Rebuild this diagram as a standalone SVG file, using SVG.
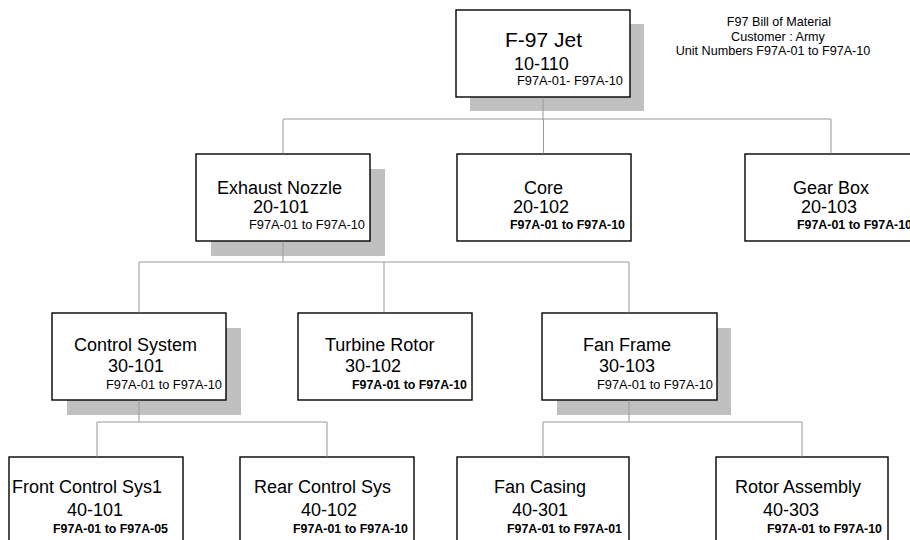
<svg xmlns="http://www.w3.org/2000/svg" width="910" height="540" viewBox="0 0 910 540">
<style>
  .box{fill:#fff;stroke:#000;stroke-width:1.4}
  .sh{fill:#c0c0c0;stroke:none}
  .conn{fill:none;stroke:#999;stroke-width:1}
  text{font-family:"Liberation Sans",Arial,sans-serif;fill:#000}
  .t1{font-size:21px}
  .nm{font-size:18px}
  .sm{font-size:12.8px}
  .bd{font-size:12.4px;font-weight:bold}
  .ti{font-size:12.6px;text-anchor:middle}
</style>
<rect width="910" height="540" fill="#fff"/>
<g id="title">
  <text class="ti" x="779" y="26">F97 Bill of Material</text>
  <text class="ti" x="778" y="41">Customer : Army</text>
  <text class="ti" x="773" y="55">Unit Numbers F97A-01 to F97A-10</text>
</g>
<g id="n-10-110">
  <rect class="sh" x="470" y="24" width="174" height="87"/>
  <rect class="box" x="456" y="10" width="174" height="87"/>
  <text class="t1" x="505" y="47">F-97 Jet</text>
  <text class="nm" x="514" y="70">10-110</text>
  <text class="sm" x="517" y="85">F97A-01- F97A-10</text>
</g>
<g id="n-20-101">
  <rect class="sh" x="211" y="169" width="174" height="87"/>
  <rect class="box" x="196" y="154" width="174" height="87"/>
  <text class="nm" x="217" y="194">Exhaust Nozzle</text>
  <text class="nm" x="253" y="213">20-101</text>
  <text class="sm" x="249" y="229">F97A-01 to F97A-10</text>
</g>
<g id="n-20-102">
  <rect class="box" x="457" y="154" width="174" height="87"/>
  <text class="nm" x="524" y="194">Core</text>
  <text class="nm" x="513" y="213">20-102</text>
  <text class="bd" x="510" y="229">F97A-01 to F97A-10</text>
</g>
<g id="n-20-103">
  <rect class="box" x="745" y="154" width="174" height="87"/>
  <text class="nm" x="793" y="194">Gear Box</text>
  <text class="nm" x="801" y="213">20-103</text>
  <text class="bd" x="797" y="229">F97A-01 to F97A-10</text>
</g>
<g id="n-30-101">
  <rect class="sh" x="67" y="328" width="174" height="87"/>
  <rect class="box" x="52" y="313" width="174" height="87"/>
  <text class="nm" x="74" y="351">Control System</text>
  <text class="nm" x="108" y="372">30-101</text>
  <text class="sm" x="106" y="389">F97A-01 to F97A-10</text>
</g>
<g id="n-30-102">
  <rect class="box" x="298" y="313" width="174" height="87"/>
  <text class="nm" x="325" y="351">Turbine Rotor</text>
  <text class="nm" x="345" y="372">30-102</text>
  <text class="bd" x="352" y="389">F97A-01 to F97A-10</text>
</g>
<g id="n-30-103">
  <rect class="sh" x="557" y="328" width="174" height="87"/>
  <rect class="box" x="542" y="313" width="175" height="87"/>
  <text class="nm" x="583" y="351">Fan Frame</text>
  <text class="nm" x="599" y="372">30-103</text>
  <text class="sm" x="597" y="389">F97A-01 to F97A-10</text>
</g>
<g id="n-40-101">
  <rect class="box" x="9" y="457" width="174" height="87"/>
  <text class="nm" x="12" y="493">Front Control Sys1</text>
  <text class="nm" x="67" y="516">40-101</text>
  <text class="bd" x="53" y="533">F97A-01 to F97A-05</text>
</g>
<g id="n-40-102">
  <rect class="box" x="240" y="457" width="174" height="87"/>
  <text class="nm" x="254" y="493">Rear Control Sys</text>
  <text class="nm" x="301" y="516">40-102</text>
  <text class="bd" x="293" y="533">F97A-01 to F97A-10</text>
</g>
<g id="n-40-301">
  <rect class="box" x="457" y="457" width="172" height="87"/>
  <text class="nm" x="494" y="493">Fan Casing</text>
  <text class="nm" x="512" y="516">40-301</text>
  <text class="bd" x="507" y="533">F97A-01 to F97A-01</text>
</g>
<g id="n-40-303">
  <rect class="box" x="716" y="457" width="172" height="87"/>
  <text class="nm" x="735" y="493">Rotor Assembly</text>
  <text class="nm" x="763" y="516">40-303</text>
  <text class="bd" x="767" y="533">F97A-01 to F97A-10</text>
</g>
<g id="connectors" class="conn">
  <path d="M543 97.5V119M283 119H831M283 119V153.5M543.5 119V153.5M831 119V153.5"/>
  <path d="M283 241.5V262M139 262H629M139 262V312.5M384 262V312.5M629 262V312.5"/>
  <path d="M139 400.5V422M97 422H327M97 422V456.5M327 422V456.5"/>
  <path d="M629 400.5V422M543 422H802M543 422V456.5M802 422V456.5"/>
</g>
</svg>
